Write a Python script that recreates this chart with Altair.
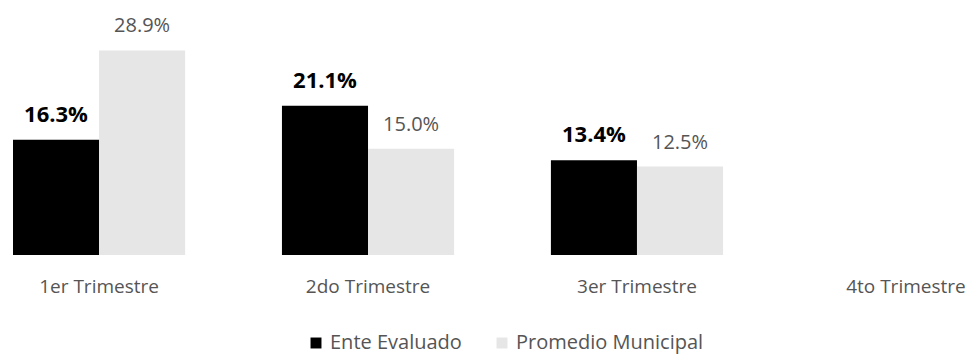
import altair as alt
import pandas as pd

trimestres = ["1er Trimestre", "2do Trimestre", "3er Trimestre", "4to Trimestre"]
series = ["Ente Evaluado", "Promedio Municipal"]
ente = [16.3, 21.1, 13.4, None]
promedio = [28.9, 15.0, 12.5, None]
colores = ["#000000", "#e6e6e6"]

rows = []
for t, e, p in zip(trimestres, ente, promedio):
    rows.append({"trimestre": t, "serie": series[0], "valor": e})
    rows.append({"trimestre": t, "serie": series[1], "valor": p})
df = pd.DataFrame(rows)
df["etiqueta"] = df["valor"].map(lambda v: "" if pd.isna(v) else f"{v:.1f}%")

FONT = "Open Sans"

x_enc = alt.X(
    "trimestre:N",
    sort=trimestres,
    scale=alt.Scale(domain=trimestres, range=[5, 984], paddingInner=0.36, paddingOuter=0),
    axis=alt.Axis(title=None, labelAngle=0, domain=False, ticks=False, grid=False,
                  labelFontSize=19, labelColor="#555555", labelFont=FONT, labelPadding=22,
                  labelOverlap=False, labelBound=False),
)
xo_enc = alt.XOffset("serie:N", scale=alt.Scale(domain=series, paddingInner=0, paddingOuter=0))
y_enc = alt.Y("valor:Q", scale=alt.Scale(domain=[0, 34.9]), axis=None)

bars = alt.Chart(df).mark_bar().encode(
    x=x_enc, xOffset=xo_enc, y=y_enc,
    color=alt.Color("serie:N", scale=alt.Scale(domain=series, range=colores),
                    legend=alt.Legend(title=None, orient="none", direction="horizontal",
                                      legendX=298, legendY=325, symbolType="square",
                                      symbolSize=120, symbolStrokeWidth=0,
                                      labelFontSize=20, labelFont=FONT, labelColor="#555555",
                                      columnPadding=30, labelLimit=300)),
)

lab_ente = alt.Chart(df).transform_filter(alt.datum.serie == series[0]).mark_text(
    baseline="alphabetic", dy=-18, fontSize=22, fontWeight="bold", font=FONT, color="#000000"
).encode(x=x_enc, xOffset=xo_enc, y=y_enc, text="etiqueta:N")

lab_prom = alt.Chart(df).transform_filter(alt.datum.serie == series[1]).mark_text(
    baseline="alphabetic", dy=-18, fontSize=20, font=FONT, color="#555555"
).encode(x=x_enc, xOffset=xo_enc, y=y_enc, text="etiqueta:N")

chart = alt.layer(bars, lab_ente, lab_prom).properties(
    width=958, height=247,
    autosize=alt.AutoSizeParams(type="none"),
    padding={"left": 0, "top": 0, "right": 0, "bottom": 99},
).configure_view(stroke=None)

chart.save("out.html", embed_options={"renderer": "svg", "actions": False})
